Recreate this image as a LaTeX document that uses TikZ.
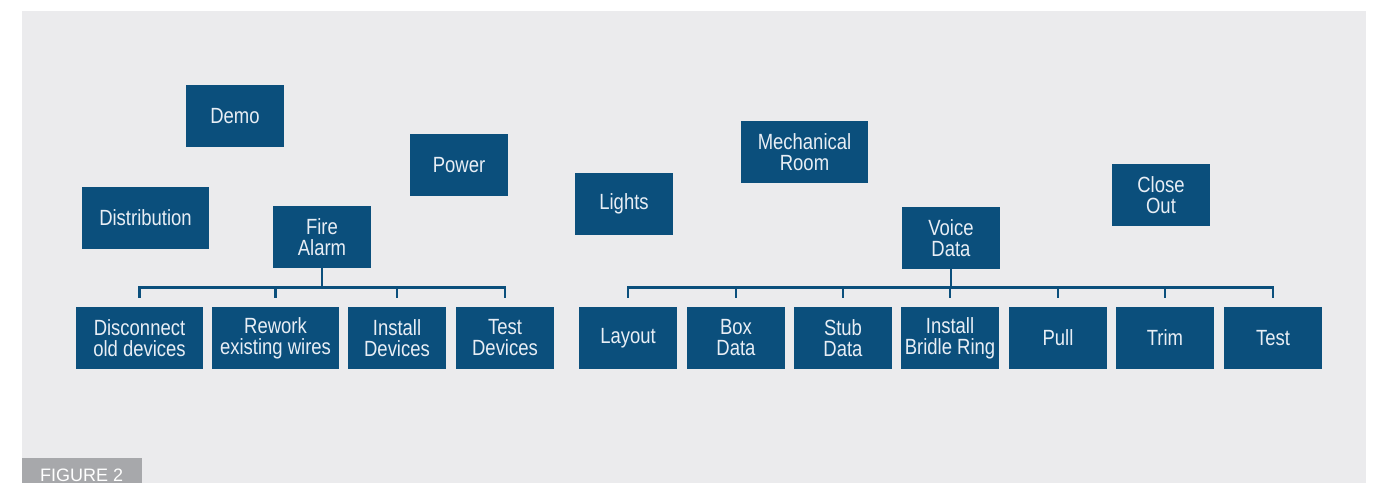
\documentclass[tikz,border=0pt]{standalone}
\usepackage{fontspec}
\setmainfont{Liberation Sans}[FakeStretch=0.84]
\newfontfamily\tagfont{Liberation Sans}
\usepackage{xcolor}
\usepackage{tikz}
\usetikzlibrary{positioning}
\definecolor{boxblue}{HTML}{0B4F7C}
\definecolor{boxtext}{HTML}{E8EEF5}
\definecolor{panel}{HTML}{EBEBED}
\definecolor{taggray}{HTML}{A7A8AB}
\tikzstyle{task}  = [rectangle, minimum width=98pt, minimum height=62pt, inner sep=0pt, text centered, fill=boxblue, text=boxtext, font=\fontsize{22}{21}\selectfont]
\tikzstyle{wide}  = [task, minimum width=127pt]
\tikzstyle{link}  = [boxblue, line width=2.8pt]
\tikzset{every node/.style={align=center}}

\begin{document}
\begin{tikzpicture}[x=1pt, y=1pt]
    \useasboundingbox (0,0) rectangle (1374,483);
    \fill [panel] (22,0) rectangle (1366,472);
    \fill [taggray] (22,0) rectangle (142,25);
    \node (fig) at (40,1.5) [anchor=base west, inner sep=0pt, text=white, font=\tagfont\fontsize{18}{18}\selectfont] {FIGURE 2};

    % floating tasks
    \node (demo)  at ( 235,  367) [task] {Demo};
    \node (dist)  at ( 145.5,265) [wide] {Distribution};
    \node (pwr)   at ( 459,  318) [task] {Power};
    \node (lgt)   at ( 624,  279) [task] {Lights};
    \node (mech)  at ( 804.5,331) [wide] {Mechanical\\Room};
    \node (close) at (1161,  288) [task] {Close\\Out};

    % fire alarm branch
    \node (fire)  at ( 322,  246) [task] {Fire\\Alarm};
    \node (disc)  at ( 139.5,145) [wide] {Disconnect\\old devices};
    \node (rwk)   at ( 275.5,145) [wide] {Rework\\existing wires};
    \node (inst)  at ( 397,  145) [task] {Install\\Devices};
    \node (tdev)  at ( 505,  145) [task] {Test\\Devices};

    % voice data branch
    \node (voice) at ( 951,  245) [task] {Voice\\Data};
    \node (lay)   at ( 628,  145) [task] {Layout};
    \node (box)   at ( 736,  145) [task] {Box\\Data};
    \node (stub)  at ( 843,  145) [task] {Stub\\Data};
    \node (ring)  at ( 950,  145) [task] {Install\\Bridle Ring};
    \node (pull)  at (1058,  145) [task] {Pull};
    \node (trim)  at (1165,  145) [task] {Trim};
    \node (test)  at (1273,  145) [task] {Test};

    \draw [link] (fire.south) -- ++(0,-19) -| ([yshift=9pt]disc.north);
    \draw [link] (fire.south) -- ++(0,-19) -| ([yshift=9pt]rwk.north);
    \draw [link] (fire.south) -- ++(0,-19) -| ([yshift=9pt]inst.north);
    \draw [link] (fire.south) -- ++(0,-19) -| ([yshift=9pt]tdev.north);

    \draw [link] (voice.south) -- ++(0,-18) -| ([yshift=9pt]lay.north);
    \draw [link] (voice.south) -- ++(0,-18) -| ([yshift=9pt]box.north);
    \draw [link] (voice.south) -- ++(0,-18) -| ([yshift=9pt]stub.north);
    \draw [link] (voice.south) -- ++(0,-18) -| ([yshift=9pt]ring.north);
    \draw [link] (voice.south) -- ++(0,-18) -| ([yshift=9pt]pull.north);
    \draw [link] (voice.south) -- ++(0,-18) -| ([yshift=9pt]trim.north);
    \draw [link] (voice.south) -- ++(0,-18) -| ([yshift=9pt]test.north);
\end{tikzpicture}
\end{document}
